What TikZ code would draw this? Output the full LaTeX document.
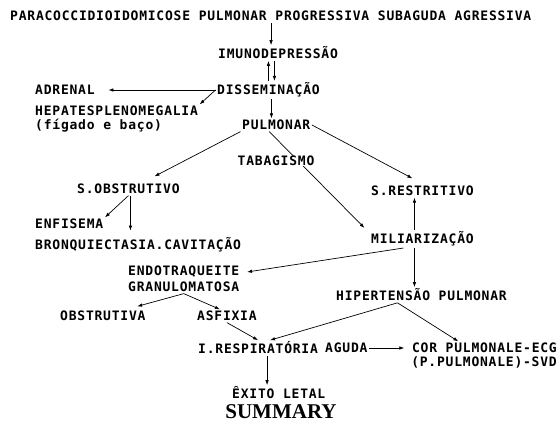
\documentclass[tikz,border=0pt]{standalone}
\usepackage{fontspec}
\newfontfamily\diagfont{DejaVu Sans Mono}[LetterSpace=6]
\newfontfamily\summaryfont{Liberation Serif}
\usetikzlibrary{arrows.meta}
\tikzstyle{every node}=[inner sep=1.5pt,anchor=west,font=\diagfont\bfseries\fontsize{13}{15}\selectfont]
\tikzstyle{flow}=[-{Latex[length=5pt,width=3.5pt]},line width=0.7pt]

\begin{document}
\begin{tikzpicture}[x=1pt,y=-1pt]
\useasboundingbox (0,0) rectangle (559,428);
\node (parac) at (8.5,16) {PARACOCCIDIOIDOMICOSE PULMONAR PROGRESSIVA SUBAGUDA AGRESSIVA};
\node (imuno) at (216.5,53) {IMUNODEPRESSÃO};
\node (dissem) at (215.5,90) {DISSEMINAÇÃO};
\node (adrenal) at (33.5,90) {ADRENAL};
\node (hepato) at (33.5,111) {HEPATESPLENOMEGALIA};
\node (figado) at (33.5,126) {(fígado e baço)};
\node (pulmonar) at (240.5,125) {PULMONAR};
\node (sobstr) at (75.5,189) {S.OBSTRUTIVO};
\node (srestr) at (369.5,191) {S.RESTRITIVO};
\node (enfisema) at (33.5,224) {ENFISEMA};
\node (bronq) at (33.5,245) {BRONQUIECTASIA.CAVITAÇÃO};
\node (miliar) at (369.5,239) {MILIARIZAÇÃO};
\node (endo) at (126.5,272) {ENDOTRAQUEITE};
\node (granulo) at (126.5,287) {GRANULOMATOSA};
\node (hipert) at (334.5,295) {HIPERTENSÃO PULMONAR};
\node (obstrut) at (58.5,316) {OBSTRUTIVA};
\node (asfixia) at (195.5,316) {ASFIXIA};
\node (iresp) at (196.5,348) {I.RESPIRATÓRIA};
\node (aguda) at (323.5,348) {AGUDA};
\node[anchor=east] (corpulm) at (558.5,348) {COR PULMONALE-ECG};
\node[anchor=east] (ppulm) at (558.5,362) {(P.PULMONALE)-SVD};
\node (exito) at (230.5,393) {ÊXITO LETAL};
\node[anchor=center] (summary) at (281,412) {\summaryfont\bfseries\fontsize{21}{22}\selectfont SUMMARY};

\draw[flow] ([xshift=-7pt]imuno.north |- parac.south) -- ([xshift=-7pt]imuno.north);
\draw[flow] (dissem.north) -- (dissem.north |- imuno.south);
\draw[flow] ([xshift=6pt]dissem.north |- imuno.south) -- ([xshift=6pt]dissem.north);
\draw[flow] (dissem.west) -- ([xshift=12pt]adrenal.east);
\draw[flow] (dissem.west) -- (hepato.north east);
\draw[flow] ([xshift=3pt]dissem.south) -- ([xshift=3pt]dissem.south |- pulmonar.north);
\draw[flow] (pulmonar.south west) -- ([xshift=26pt,yshift=6pt]sobstr.north);
\draw[flow] ([xshift=-7pt]pulmonar.south) -- ([xshift=-5pt,yshift=2pt]miliar.north west);
\node[fill=white,inner sep=0.5pt] (tabag) at (237,161) {TABAGISMO};
\draw[flow] (pulmonar.east) -- ([xshift=-10pt,yshift=6pt]srestr.north);
\draw[flow] (sobstr.south) -- (enfisema.north east);
\draw[flow] ([xshift=2pt]sobstr.south) -- ([xshift=2pt]sobstr.south |- enfisema.south);
\draw[flow] ([xshift=-8pt]miliar.north) -- ([xshift=-8pt]miliar.north |- srestr.south);
\draw[flow] ([xshift=-8pt]miliar.south) -- ([xshift=-8pt]miliar.south |- hipert.north);
\draw[flow] ([xshift=-19pt]miliar.south) -- ([xshift=6pt]endo.east);
\draw[flow] (granulo.south) -- ([xshift=-10pt,yshift=3pt]obstrut.north east);
\draw[flow] (granulo.south) -- ([xshift=-7pt]asfixia.north);
\draw[flow] (asfixia.south) -- (iresp.north);
\draw[flow] ([xshift=-24pt]hipert.south) -- ([xshift=12pt]iresp.north);
\draw[flow] ([xshift=-24pt]hipert.south) -- ([xshift=48pt]corpulm.north west);
\draw[flow] (aguda.east) -- ([xshift=-6pt]corpulm.west);
\draw[flow] ([xshift=9pt]iresp.south) -- ([xshift=9pt]iresp.south |- exito.north);
\end{tikzpicture}
\end{document}
